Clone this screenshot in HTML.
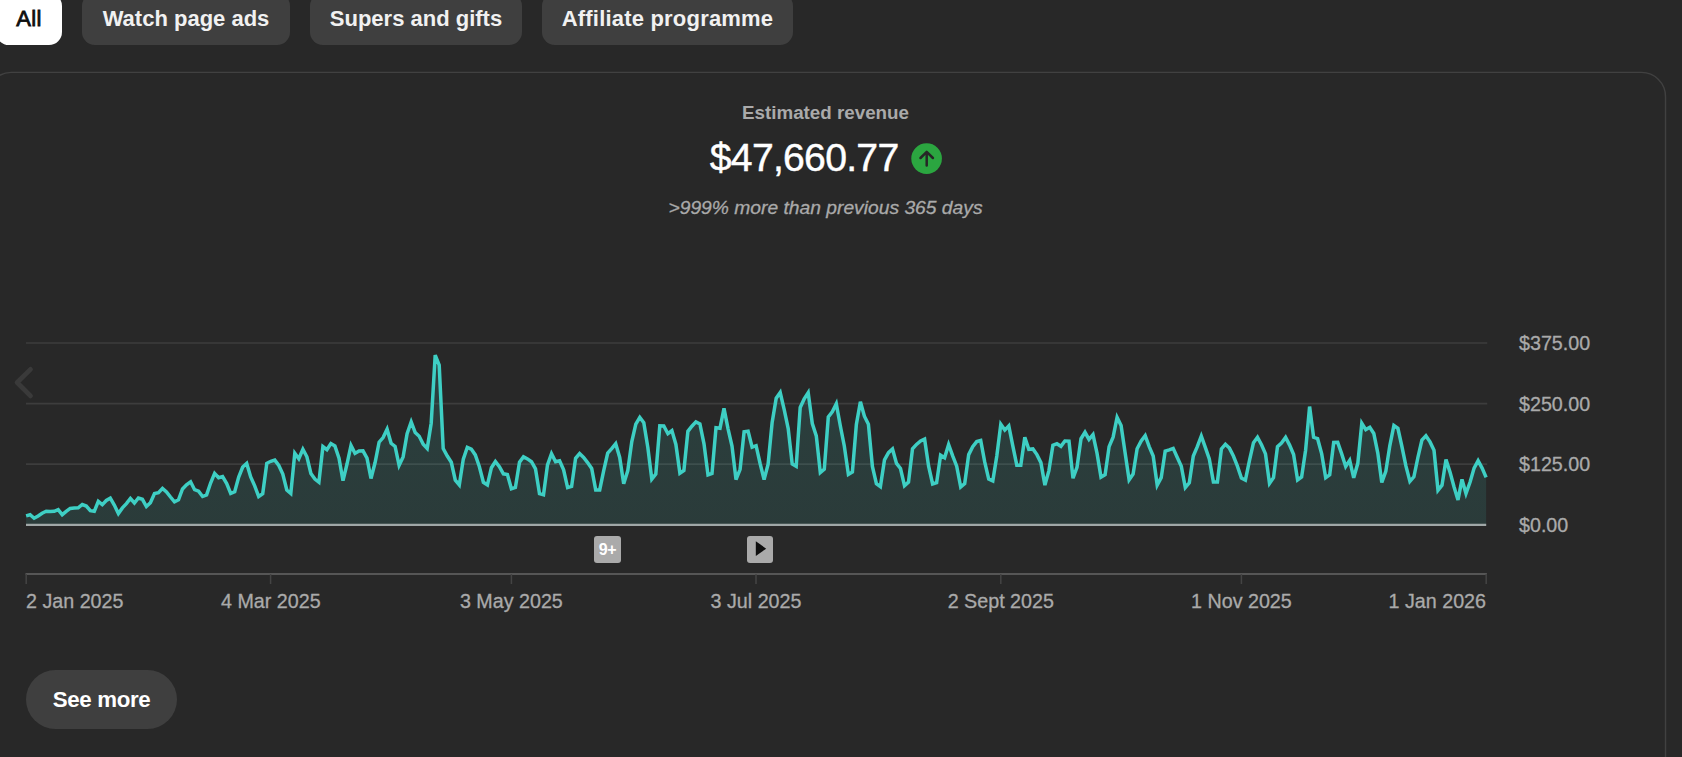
<!DOCTYPE html>
<html lang="en"><head><meta charset="utf-8"><title>Estimated revenue</title>
<style>
html,body{margin:0;padding:0;background:#282828;}
body{width:1682px;height:757px;overflow:hidden;position:relative;font-family:"Liberation Sans",sans-serif;color:#fff;}
.chip{position:absolute;top:-7px;height:52px;line-height:52px;border-radius:13px;background:#3f3f3f;color:#f1f1f1;font-weight:bold;font-size:22px;text-align:center;white-space:nowrap;}
.chip.sel{background:#fff;color:#0f0f0f;font-weight:normal;-webkit-text-stroke:0.8px #0f0f0f;letter-spacing:0.4px;}
.t{position:absolute;white-space:nowrap;}
.c{transform:translateX(-50%);}
.title{left:825.5px;top:102px;font-size:18.8px;line-height:22px;font-weight:bold;color:#aaa;}
.val{left:709.8px;top:136px;font-size:39.2px;line-height:44px;color:#fff;letter-spacing:-0.75px;-webkit-text-stroke:0.45px #fff;}
.sub{left:825.5px;top:197px;font-size:19.25px;line-height:22px;font-style:italic;color:#aaa;-webkit-text-stroke:0.3px #aaa;}
.ylab{left:1519px;font-size:19.7px;line-height:22px;color:#aaa;-webkit-text-stroke:0.3px #aaa;}
.xlab{top:590px;font-size:19.7px;line-height:22px;color:#aaa;-webkit-text-stroke:0.3px #aaa;}
.btn{position:absolute;left:26px;top:670px;width:151px;height:59px;line-height:59px;border-radius:30px;background:#3f3f3f;color:#fff;font-weight:bold;font-size:22.3px;letter-spacing:-0.35px;text-align:center;}
.badge{position:absolute;top:536.4px;width:26.4px;height:26.4px;border-radius:3px;background:#aaa;color:#fff;font-weight:bold;font-size:16px;line-height:27.4px;text-align:center;letter-spacing:-0.6px;}
svg{position:absolute;left:0;top:0;}
</style></head><body>
<div class="chip sel" style="left:-4px;width:66px;">All</div>
<div class="chip" style="left:82px;width:208px;">Watch page ads</div>
<div class="chip" style="left:310px;width:212px;">Supers and gifts</div>
<div class="chip" style="left:542px;width:251px;letter-spacing:0.2px;">Affiliate programme</div>
<div class="t c title">Estimated revenue</div>
<div class="t val">$47,660.77</div>
<div class="t c sub">&gt;999% more than previous 365 days</div>
<svg width="1682" height="757" viewBox="0 0 1682 757">
<defs><linearGradient id="g" gradientUnits="userSpaceOnUse" x1="0" y1="350" x2="0" y2="525"><stop offset="0" stop-color="#3ecfc4" stop-opacity="0.14"/><stop offset="1" stop-color="#3ecfc4" stop-opacity="0.115"/></linearGradient></defs>
<rect x="-12.7" y="72.4" width="1678.2" height="720" rx="24" ry="24" fill="none" stroke="#414141" stroke-width="1.4"/>
<circle cx="926.6" cy="158.6" r="15.3" fill="#2ba640"/>
<path d="M926.7 165.4V152M920.5 158l6.2-6.2 6.2 6.2" fill="none" stroke="#262626" stroke-width="2.5" stroke-linecap="round" stroke-linejoin="round"/>
<g stroke="#3d3d3d" stroke-width="1.6">
<line x1="26" y1="343" x2="1487.2" y2="343"/>
<line x1="26" y1="403.6" x2="1487.2" y2="403.6"/>
<line x1="26" y1="464.1" x2="1487.2" y2="464.1"/>
</g>
<path d="M26.1,524.5 L26.1,515.9 L30.1,514.7 L34.1,518.2 L38.1,515.9 L42.1,513.3 L46.2,511.3 L50.2,511.6 L54.2,511.3 L58.2,509.7 L62.2,514.7 L66.2,511.3 L70.2,508.4 L74.2,507.9 L78.2,507.8 L82.3,504.5 L86.3,506.0 L90.3,510.7 L94.3,511.3 L98.3,501.4 L102.3,504.6 L106.3,500.5 L110.3,498.2 L114.3,505.1 L118.4,513.5 L122.4,507.9 L126.4,503.6 L130.4,498.4 L134.4,503.0 L138.4,498.0 L142.4,499.3 L146.4,506.5 L150.4,502.7 L154.5,493.5 L158.5,492.7 L162.5,488.4 L166.5,491.9 L170.5,497.0 L174.5,501.8 L178.5,499.8 L182.5,489.0 L186.5,484.8 L190.6,481.8 L194.6,489.7 L198.6,491.2 L202.6,496.5 L206.6,494.9 L210.6,483.0 L214.6,473.4 L218.6,477.8 L222.6,476.6 L226.7,483.6 L230.7,493.4 L234.7,491.8 L238.7,477.0 L242.7,467.0 L246.7,463.4 L250.7,477.0 L254.7,485.8 L258.7,496.5 L262.7,493.7 L266.8,463.3 L270.8,461.3 L274.8,460.1 L278.8,465.4 L282.8,474.1 L286.8,490.0 L290.8,493.4 L294.8,453.2 L298.8,458.7 L302.9,449.3 L306.9,456.8 L310.9,473.4 L314.9,479.1 L318.9,482.2 L322.9,446.6 L326.9,449.7 L330.9,443.6 L334.9,445.9 L339.0,458.1 L343.0,480.7 L347.0,464.0 L351.0,445.5 L355.0,453.4 L359.0,451.0 L363.0,450.8 L367.0,458.1 L371.0,478.5 L375.1,462.5 L379.1,442.2 L383.1,437.6 L387.1,429.2 L391.1,443.3 L395.1,446.5 L399.1,465.3 L403.1,456.9 L407.1,433.8 L411.2,422.0 L415.2,432.6 L419.2,436.3 L423.2,444.2 L427.2,448.4 L431.2,423.2 L435.2,355.1 L439.2,365.1 L443.2,448.6 L447.3,456.0 L451.3,462.3 L455.3,480.2 L459.3,484.9 L463.3,459.1 L467.3,447.3 L471.3,449.1 L475.3,454.9 L479.3,466.5 L483.4,482.3 L487.4,484.9 L491.4,467.7 L495.4,461.5 L499.4,466.6 L503.4,473.8 L507.4,474.5 L511.4,488.7 L515.4,487.5 L519.5,462.3 L523.5,456.7 L527.5,458.9 L531.5,461.7 L535.5,468.9 L539.5,493.7 L543.5,494.8 L547.5,464.8 L551.5,453.6 L555.6,461.7 L559.6,460.7 L563.6,469.9 L567.6,487.6 L571.6,486.4 L575.6,458.3 L579.6,453.6 L583.6,457.5 L587.6,462.6 L591.7,468.4 L595.7,489.9 L599.7,489.9 L603.7,470.6 L607.7,453.1 L611.7,448.7 L615.7,443.8 L619.7,457.5 L623.7,483.7 L627.8,470.6 L631.8,441.5 L635.8,424.1 L639.8,417.3 L643.8,422.7 L647.8,447.3 L651.8,479.2 L655.8,474.1 L659.8,425.8 L663.8,426.0 L667.9,433.7 L671.9,430.6 L675.9,444.4 L679.9,473.3 L683.9,470.5 L687.9,431.3 L691.9,426.2 L695.9,421.9 L699.9,423.9 L704.0,443.8 L708.0,474.9 L712.0,473.4 L716.0,427.7 L720.0,428.2 L724.0,408.3 L728.0,428.6 L732.0,446.0 L736.0,479.5 L740.1,469.3 L744.1,431.7 L748.1,431.1 L752.1,447.1 L756.1,445.7 L760.1,463.5 L764.1,479.5 L768.1,464.2 L772.1,422.8 L776.2,398.2 L780.2,392.5 L784.2,409.7 L788.2,428.6 L792.2,464.0 L796.2,466.3 L800.2,407.5 L804.2,398.9 L808.2,392.7 L812.3,423.5 L816.3,435.9 L820.3,472.6 L824.3,469.2 L828.3,417.0 L832.3,411.8 L836.3,403.8 L840.3,425.7 L844.3,446.0 L848.4,474.4 L852.4,472.0 L856.4,424.2 L860.4,401.7 L864.4,416.2 L868.4,424.2 L872.4,466.4 L876.4,483.7 L880.4,486.6 L884.5,459.8 L888.5,452.6 L892.5,449.0 L896.5,463.4 L900.5,468.5 L904.5,485.7 L908.5,482.1 L912.5,448.8 L916.5,444.4 L920.6,440.9 L924.6,439.1 L928.6,466.2 L932.6,484.0 L936.6,482.7 L940.6,455.2 L944.6,457.7 L948.6,444.5 L952.6,455.7 L956.7,466.2 L960.7,487.0 L964.7,483.6 L968.7,454.6 L972.7,446.6 L976.7,441.6 L980.7,440.5 L984.7,461.9 L988.7,479.1 L992.8,480.9 L996.8,456.0 L1000.8,424.3 L1004.8,430.1 L1008.8,425.9 L1012.8,445.9 L1016.8,465.2 L1020.8,465.2 L1024.8,437.2 L1028.8,449.3 L1032.9,448.9 L1036.9,454.6 L1040.9,462.6 L1044.9,485.1 L1048.9,470.6 L1052.9,445.2 L1056.9,443.8 L1060.9,446.3 L1064.9,441.0 L1069.0,441.1 L1073.0,478.2 L1077.0,467.3 L1081.0,438.7 L1085.0,432.3 L1089.0,439.4 L1093.0,434.7 L1097.0,453.1 L1101.0,477.1 L1105.1,474.7 L1109.1,446.6 L1113.1,437.2 L1117.1,417.4 L1121.1,425.6 L1125.1,452.8 L1129.1,479.8 L1133.1,474.1 L1137.1,448.8 L1141.2,440.9 L1145.2,435.6 L1149.2,446.6 L1153.2,456.0 L1157.2,485.1 L1161.2,477.7 L1165.2,451.1 L1169.2,449.9 L1173.2,448.4 L1177.3,457.5 L1181.3,466.2 L1185.3,487.5 L1189.3,482.8 L1193.3,456.0 L1197.3,446.6 L1201.3,436.0 L1205.3,447.3 L1209.3,459.0 L1213.4,481.9 L1217.4,481.9 L1221.4,448.9 L1225.4,444.2 L1229.4,448.1 L1233.4,456.0 L1237.4,466.2 L1241.4,478.1 L1245.4,480.2 L1249.5,460.4 L1253.5,442.7 L1257.5,437.3 L1261.5,444.8 L1265.5,453.9 L1269.5,483.4 L1273.5,477.7 L1277.5,446.6 L1281.5,443.0 L1285.6,437.4 L1289.6,445.1 L1293.6,454.6 L1297.6,479.9 L1301.6,477.0 L1305.6,450.2 L1309.6,406.6 L1313.6,437.3 L1317.6,438.7 L1321.7,453.9 L1325.7,477.7 L1329.7,474.8 L1333.7,442.5 L1337.7,442.4 L1341.7,453.9 L1345.7,466.5 L1349.7,460.4 L1353.7,477.8 L1357.8,463.3 L1361.8,423.2 L1365.8,429.6 L1369.8,427.3 L1373.8,433.5 L1377.8,453.1 L1381.8,482.5 L1385.8,471.4 L1389.8,445.8 L1393.9,425.5 L1397.9,428.4 L1401.9,446.5 L1405.9,465.9 L1409.9,481.4 L1413.9,476.8 L1417.9,457.5 L1421.9,440.0 L1425.9,435.7 L1430.0,441.9 L1434.0,450.3 L1438.0,490.2 L1442.0,485.2 L1446.0,459.6 L1450.0,472.1 L1454.0,486.7 L1458.0,499.9 L1462.0,479.4 L1466.0,493.5 L1470.1,482.0 L1474.1,468.1 L1478.1,460.7 L1482.1,468.1 L1486.1,477.4 L1486.1,524.5 Z" fill="url(#g)"/>
<line x1="26" y1="524.9" x2="1486.2" y2="524.9" stroke="#a0a7a7" stroke-width="2.3"/>
<polyline points="26.1,515.9 30.1,514.7 34.1,518.2 38.1,515.9 42.1,513.3 46.2,511.3 50.2,511.6 54.2,511.3 58.2,509.7 62.2,514.7 66.2,511.3 70.2,508.4 74.2,507.9 78.2,507.8 82.3,504.5 86.3,506.0 90.3,510.7 94.3,511.3 98.3,501.4 102.3,504.6 106.3,500.5 110.3,498.2 114.3,505.1 118.4,513.5 122.4,507.9 126.4,503.6 130.4,498.4 134.4,503.0 138.4,498.0 142.4,499.3 146.4,506.5 150.4,502.7 154.5,493.5 158.5,492.7 162.5,488.4 166.5,491.9 170.5,497.0 174.5,501.8 178.5,499.8 182.5,489.0 186.5,484.8 190.6,481.8 194.6,489.7 198.6,491.2 202.6,496.5 206.6,494.9 210.6,483.0 214.6,473.4 218.6,477.8 222.6,476.6 226.7,483.6 230.7,493.4 234.7,491.8 238.7,477.0 242.7,467.0 246.7,463.4 250.7,477.0 254.7,485.8 258.7,496.5 262.7,493.7 266.8,463.3 270.8,461.3 274.8,460.1 278.8,465.4 282.8,474.1 286.8,490.0 290.8,493.4 294.8,453.2 298.8,458.7 302.9,449.3 306.9,456.8 310.9,473.4 314.9,479.1 318.9,482.2 322.9,446.6 326.9,449.7 330.9,443.6 334.9,445.9 339.0,458.1 343.0,480.7 347.0,464.0 351.0,445.5 355.0,453.4 359.0,451.0 363.0,450.8 367.0,458.1 371.0,478.5 375.1,462.5 379.1,442.2 383.1,437.6 387.1,429.2 391.1,443.3 395.1,446.5 399.1,465.3 403.1,456.9 407.1,433.8 411.2,422.0 415.2,432.6 419.2,436.3 423.2,444.2 427.2,448.4 431.2,423.2 435.2,355.1 439.2,365.1 443.2,448.6 447.3,456.0 451.3,462.3 455.3,480.2 459.3,484.9 463.3,459.1 467.3,447.3 471.3,449.1 475.3,454.9 479.3,466.5 483.4,482.3 487.4,484.9 491.4,467.7 495.4,461.5 499.4,466.6 503.4,473.8 507.4,474.5 511.4,488.7 515.4,487.5 519.5,462.3 523.5,456.7 527.5,458.9 531.5,461.7 535.5,468.9 539.5,493.7 543.5,494.8 547.5,464.8 551.5,453.6 555.6,461.7 559.6,460.7 563.6,469.9 567.6,487.6 571.6,486.4 575.6,458.3 579.6,453.6 583.6,457.5 587.6,462.6 591.7,468.4 595.7,489.9 599.7,489.9 603.7,470.6 607.7,453.1 611.7,448.7 615.7,443.8 619.7,457.5 623.7,483.7 627.8,470.6 631.8,441.5 635.8,424.1 639.8,417.3 643.8,422.7 647.8,447.3 651.8,479.2 655.8,474.1 659.8,425.8 663.8,426.0 667.9,433.7 671.9,430.6 675.9,444.4 679.9,473.3 683.9,470.5 687.9,431.3 691.9,426.2 695.9,421.9 699.9,423.9 704.0,443.8 708.0,474.9 712.0,473.4 716.0,427.7 720.0,428.2 724.0,408.3 728.0,428.6 732.0,446.0 736.0,479.5 740.1,469.3 744.1,431.7 748.1,431.1 752.1,447.1 756.1,445.7 760.1,463.5 764.1,479.5 768.1,464.2 772.1,422.8 776.2,398.2 780.2,392.5 784.2,409.7 788.2,428.6 792.2,464.0 796.2,466.3 800.2,407.5 804.2,398.9 808.2,392.7 812.3,423.5 816.3,435.9 820.3,472.6 824.3,469.2 828.3,417.0 832.3,411.8 836.3,403.8 840.3,425.7 844.3,446.0 848.4,474.4 852.4,472.0 856.4,424.2 860.4,401.7 864.4,416.2 868.4,424.2 872.4,466.4 876.4,483.7 880.4,486.6 884.5,459.8 888.5,452.6 892.5,449.0 896.5,463.4 900.5,468.5 904.5,485.7 908.5,482.1 912.5,448.8 916.5,444.4 920.6,440.9 924.6,439.1 928.6,466.2 932.6,484.0 936.6,482.7 940.6,455.2 944.6,457.7 948.6,444.5 952.6,455.7 956.7,466.2 960.7,487.0 964.7,483.6 968.7,454.6 972.7,446.6 976.7,441.6 980.7,440.5 984.7,461.9 988.7,479.1 992.8,480.9 996.8,456.0 1000.8,424.3 1004.8,430.1 1008.8,425.9 1012.8,445.9 1016.8,465.2 1020.8,465.2 1024.8,437.2 1028.8,449.3 1032.9,448.9 1036.9,454.6 1040.9,462.6 1044.9,485.1 1048.9,470.6 1052.9,445.2 1056.9,443.8 1060.9,446.3 1064.9,441.0 1069.0,441.1 1073.0,478.2 1077.0,467.3 1081.0,438.7 1085.0,432.3 1089.0,439.4 1093.0,434.7 1097.0,453.1 1101.0,477.1 1105.1,474.7 1109.1,446.6 1113.1,437.2 1117.1,417.4 1121.1,425.6 1125.1,452.8 1129.1,479.8 1133.1,474.1 1137.1,448.8 1141.2,440.9 1145.2,435.6 1149.2,446.6 1153.2,456.0 1157.2,485.1 1161.2,477.7 1165.2,451.1 1169.2,449.9 1173.2,448.4 1177.3,457.5 1181.3,466.2 1185.3,487.5 1189.3,482.8 1193.3,456.0 1197.3,446.6 1201.3,436.0 1205.3,447.3 1209.3,459.0 1213.4,481.9 1217.4,481.9 1221.4,448.9 1225.4,444.2 1229.4,448.1 1233.4,456.0 1237.4,466.2 1241.4,478.1 1245.4,480.2 1249.5,460.4 1253.5,442.7 1257.5,437.3 1261.5,444.8 1265.5,453.9 1269.5,483.4 1273.5,477.7 1277.5,446.6 1281.5,443.0 1285.6,437.4 1289.6,445.1 1293.6,454.6 1297.6,479.9 1301.6,477.0 1305.6,450.2 1309.6,406.6 1313.6,437.3 1317.6,438.7 1321.7,453.9 1325.7,477.7 1329.7,474.8 1333.7,442.5 1337.7,442.4 1341.7,453.9 1345.7,466.5 1349.7,460.4 1353.7,477.8 1357.8,463.3 1361.8,423.2 1365.8,429.6 1369.8,427.3 1373.8,433.5 1377.8,453.1 1381.8,482.5 1385.8,471.4 1389.8,445.8 1393.9,425.5 1397.9,428.4 1401.9,446.5 1405.9,465.9 1409.9,481.4 1413.9,476.8 1417.9,457.5 1421.9,440.0 1425.9,435.7 1430.0,441.9 1434.0,450.3 1438.0,490.2 1442.0,485.2 1446.0,459.6 1450.0,472.1 1454.0,486.7 1458.0,499.9 1462.0,479.4 1466.0,493.5 1470.1,482.0 1474.1,468.1 1478.1,460.7 1482.1,468.1 1486.1,477.4" fill="none" stroke="#3ecfc4" stroke-width="3.5" stroke-linejoin="miter" stroke-miterlimit="4" stroke-linecap="butt"/>
<path d="M30.5 369.4L17.1 382.5 30.5 395.9" fill="none" stroke="#3a3a3a" stroke-width="4.8" stroke-linecap="round" stroke-linejoin="round"/>
<line x1="25.5" y1="574" x2="1486.9" y2="574" stroke="#666" stroke-width="1.5"/>
<g stroke="#444" stroke-width="1.5">
<line x1="26.2" y1="574" x2="26.2" y2="584"/>
<line x1="270.6" y1="574" x2="270.6" y2="584"/>
<line x1="511.4" y1="574" x2="511.4" y2="584"/>
<line x1="756" y1="574" x2="756" y2="584"/>
<line x1="1000.8" y1="574" x2="1000.8" y2="584"/>
<line x1="1241.4" y1="574" x2="1241.4" y2="584"/>
<line x1="1486.2" y1="574" x2="1486.2" y2="584"/>
</g>
</svg>
<div class="t ylab" style="top:332px;">$375.00</div>
<div class="t ylab" style="top:392.5px;">$250.00</div>
<div class="t ylab" style="top:453px;">$125.00</div>
<div class="t ylab" style="top:513.5px;">$0.00</div>
<div class="t xlab" style="left:26px;">2 Jan 2025</div>
<div class="t c xlab" style="left:270.8px;">4 Mar 2025</div>
<div class="t c xlab" style="left:511.4px;">3 May 2025</div>
<div class="t c xlab" style="left:756px;">3 Jul 2025</div>
<div class="t c xlab" style="left:1000.8px;">2 Sept 2025</div>
<div class="t c xlab" style="left:1241.4px;">1 Nov 2025</div>
<div class="t xlab" style="right:196px;">1 Jan 2026</div>
<div class="badge" style="left:594.2px;">9+</div>
<div class="badge" style="left:746.7px;"><svg width="27" height="27" viewBox="0 0 27 27" style="position:absolute;left:0;top:0"><path d="M8.8 5.3v14.7l10.4-7.35z" fill="#0f0f0f"/></svg></div>
<div class="btn">See more</div>
</body></html>
